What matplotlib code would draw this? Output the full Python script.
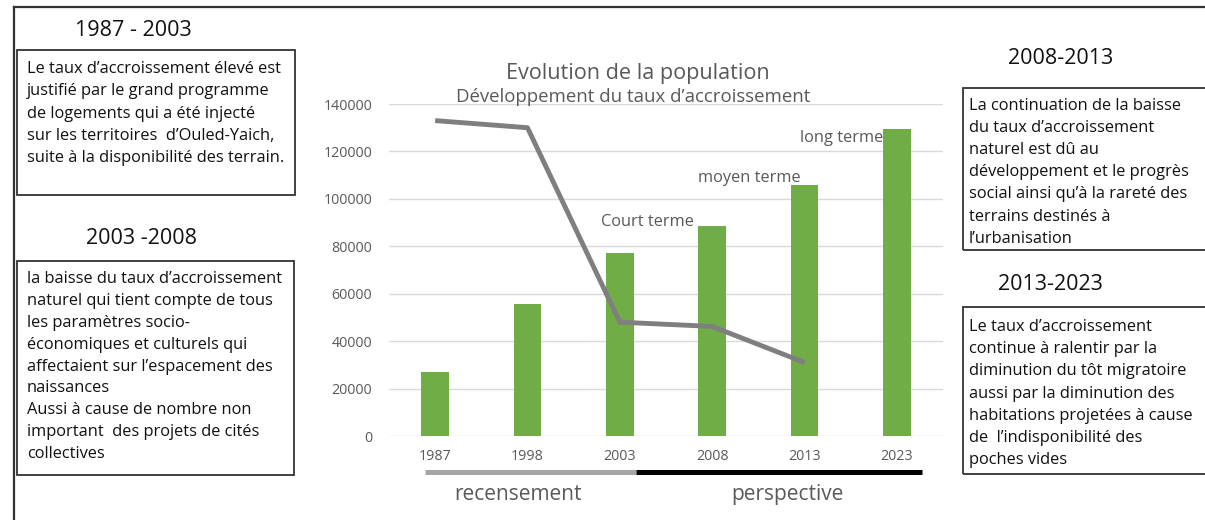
"""Population evolution chart with explanatory text boxes."""

import matplotlib

matplotlib.use("Agg")
import matplotlib.pyplot as plt
from matplotlib.patches import Rectangle
from matplotlib.transforms import blended_transform_factory

# --- data -----------------------------------------------------------------
years = ["1987", "1998", "2003", "2008", "2013", "2023"]
population = [27000, 55700, 77300, 88700, 106000, 129500]
growth_line = [133000, 130000, 48000, 46200, 31000]  # drawn for 1987..2013
bar_labels = ["", "", "", "Court terme", "moyen terme", "long terme"]
y_ticks = [0, 20000, 40000, 60000, 80000, 100000, 120000, 140000]

title = "Evolution de la population"
subtitle = "Développement du taux d’accroissement"
period_names = ["recensement", "perspective"]

box_titles = ["1987 - 2003", "2003 -2008", "2008-2013", "2013-2023"]
box_texts = [
    "Le taux d’accroissement élevé est\n"
    "justifié par le grand programme\n"
    "de logements qui a été injecté\n"
    "sur les territoires  d’Ouled-Yaich,\n"
    "suite à la disponibilité des terrain.",
    "la baisse du taux d’accroissement\n"
    "naturel qui tient compte de tous\n"
    "les paramètres socio-\n"
    "économiques et culturels qui\n"
    "affectaient sur l’espacement des\n"
    "naissances\n"
    "Aussi à cause de nombre non\n"
    "important  des projets de cités\n"
    "collectives",
    "La continuation de la baisse\n"
    "du taux d’accroissement\n"
    "naturel est dû au\n"
    "développement et le progrès\n"
    "social ainsi qu’à la rareté des\n"
    "terrains destinés à\n"
    "l’urbanisation",
    "Le taux d’accroissement\n"
    "continue à ralentir par la\n"
    "diminution du tôt migratoire\n"
    "aussi par la diminution des\n"
    "habitations projetées à cause\n"
    "de  l’indisponibilité des\n"
    "poches vides",
]

# --- layout (pixels in a 1205x520 canvas) -----------------------------------
W, H = 1205, 520
BAR_GREEN = "#70AD47"
LINE_GREY = "#7F7F7F"
TEXT_GREY = "#595959"
FRAME = "#333333"

# box rectangles: left, top, right, bottom ; title centres ; text anchor
box_rects = [(17, 50, 295, 195), (17, 261, 294, 475), (963, 88, 1212, 250), (963, 307, 1212, 474)]
box_title_pos = [(133, 31), (141, 239), (1061, 58), (1050, 285)]
box_text_pos = [(27, 61), (27, 271), (969, 98), (969, 319)]
box_linespacing = [1.53, 1.49, 1.51, 1.52]
label_offsets = [(0, 0), (0, 0), (0, 0), (-18, 4), (-4, 7), (-14, -9)]


def fx(x):
    return x / W


def fy(y):
    return 1 - y / H


plt.rcParams["font.family"] = ["Open Sans", "DejaVu Sans"]

fig = plt.figure(figsize=(W / 100, H / 100), dpi=100)
ax = fig.add_axes([fx(389), fy(436), (943 - 389) / W, (436 - 104) / H])

x = list(range(len(years)))
ax.bar(x, population, width=0.3, color=BAR_GREEN, zorder=2)
ax.plot(x[: len(growth_line)], growth_line, color=LINE_GREY, linewidth=3.5,
        solid_capstyle="butt", zorder=3)

for i, (lab, val) in enumerate(zip(bar_labels, population)):
    if lab:
        dx, dy = label_offsets[i]
        ax.annotate(lab, (i, val), xytext=(dx, dy), textcoords="offset pixels",
                    ha="right", va="center", fontsize=11.8, color=TEXT_GREY)

ax.set_xlim(-0.5, len(years) - 0.5)
ax.set_ylim(0, 140000)
ax.set_yticks(y_ticks)
ax.set_yticklabels([str(v) for v in y_ticks])
ax.set_xticks(x)
ax.set_xticklabels(years)
ax.tick_params(axis="both", length=0, labelsize=10.3, labelcolor=TEXT_GREY)
ax.tick_params(axis="y", pad=12)
ax.tick_params(axis="x", pad=9)
ax.grid(axis="y", color="#D9D9D9", linewidth=1, zorder=0)
ax.set_axisbelow(True)
for spine in ax.spines.values():
    spine.set_visible(False)

# period underline: grey for census years, black for projections
trans = blended_transform_factory(ax.transData, ax.transAxes)
split = years.index("2003")
spans = [(-0.11, split + 0.17), (split + 0.17, len(years) - 1 + 0.27)]
span_colors = ["#A6A6A6", "#000000"]
name_x = [0.9, 3.82]
for (x0, x1), col, name, nx in zip(spans, span_colors, period_names, name_x):
    ax.plot([x0, x1], [-0.108, -0.108], color=col, linewidth=3.6,
            solid_capstyle="butt", transform=trans, clip_on=False)
    ax.text(nx, -0.177, name, transform=trans, ha="center", va="center",
            fontsize=15, color=TEXT_GREY)

fig.text(fx(638), fy(73), title, ha="center", va="center", fontsize=15.6, color=TEXT_GREY)
fig.text(fx(633), fy(97), subtitle, ha="center", va="center", fontsize=13.4, color=TEXT_GREY)

# outer frame (top and left edges)
fig.add_artist(plt.Line2D([fx(14), fx(14)], [fy(7), 0], color=FRAME, linewidth=1.6))
fig.add_artist(plt.Line2D([fx(14), 1], [fy(7), fy(7)], color=FRAME, linewidth=1.6))

for (l, t, r, b), bt, (tx, ty), txt, (px, py), ls in zip(
        box_rects, box_titles, box_title_pos, box_texts, box_text_pos, box_linespacing):
    fig.add_artist(Rectangle((fx(l), fy(b)), (r - l) / W, (b - t) / H,
                             transform=fig.transFigure, fill=False,
                             edgecolor=FRAME, linewidth=1.3))
    fig.text(fx(tx), fy(ty), bt, ha="center", va="center", fontsize=15.5, color="#111111")
    fig.text(fx(px), fy(py), txt, ha="left", va="top", fontsize=11.8,
             color="#111111", linespacing=ls)

fig.savefig("out.png", dpi=100)
